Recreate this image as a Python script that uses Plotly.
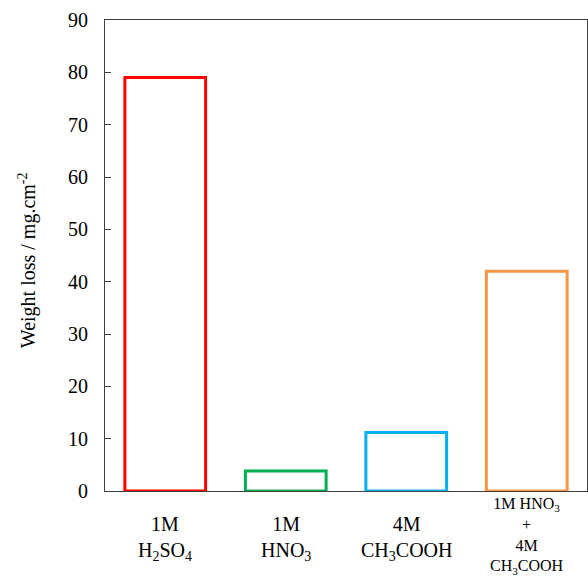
import plotly.graph_objects as go

categories = ["1M H2SO4", "1M HNO3", "4M CH3COOH", "1M HNO3 + 4M CH3COOH"]
labels = ["1M<br>H<sub>2</sub>SO<sub>4</sub>",
          "1M<br>HNO<sub>3</sub>",
          "4M<br>CH<sub>3</sub>COOH",
          "1M HNO<sub>3</sub><br>+<br>4M<br>CH<sub>3</sub>COOH"]
label_sizes = [20, 20, 20, 16]
label_shifts = [-47, -47, -47, -45]
weight_loss = [79, 3.8, 11.2, 42]
colors = ["#FF0000", "#00B050", "#00B0F0", "#F79646"]
y_ticks = [0, 10, 20, 30, 40, 50, 60, 70, 80, 90]

FONT = "Liberation Serif, Times New Roman, serif"

fig = go.Figure()
fig.add_trace(go.Bar(
    x=categories, y=weight_loss, width=0.67,
    marker=dict(color="rgba(255,255,255,0)", line=dict(color=colors, width=3)),
    showlegend=False,
))

annotations = []
for cat, lab, sz, sh in zip(categories, labels, label_sizes, label_shifts):
    annotations.append(dict(
        x=cat, xref="x", y=0, yref="paper", yanchor="middle", xanchor="center",
        yshift=sh, text=lab, showarrow=False,
        font=dict(family=FONT, size=sz, color="black"),
    ))
annotations.append(dict(
    x=-0.162, xref="paper", y=0.49, yref="paper", xanchor="center", yanchor="middle",
    text="Weight loss / mg.cm<sup>-2</sup>", textangle=-90, showarrow=False,
    font=dict(family=FONT, size=20, color="black"),
))

fig.update_layout(
    width=588, height=577,
    margin=dict(l=105, r=1, t=20, b=86),
    paper_bgcolor="white", plot_bgcolor="white",
    font=dict(family=FONT, size=20, color="black"),
    annotations=annotations,
    xaxis=dict(showticklabels=False, ticks="", showline=True, linecolor="#404040",
               linewidth=1, mirror=True, showgrid=False, zeroline=False),
    yaxis=dict(range=[0, 90], tickvals=y_ticks, ticks="inside", ticklen=6,
               tickcolor="#404040", showline=True, linecolor="#404040", linewidth=1,
               mirror=True, showgrid=False, zeroline=False, ticklabelstandoff=12,
               tickfont=dict(family=FONT, size=20, color="black")),
)

fig.write_html("out.html", config={"displayModeBar": False},
               post_script="document.body.style.margin='0';document.body.style.overflow='hidden';")
